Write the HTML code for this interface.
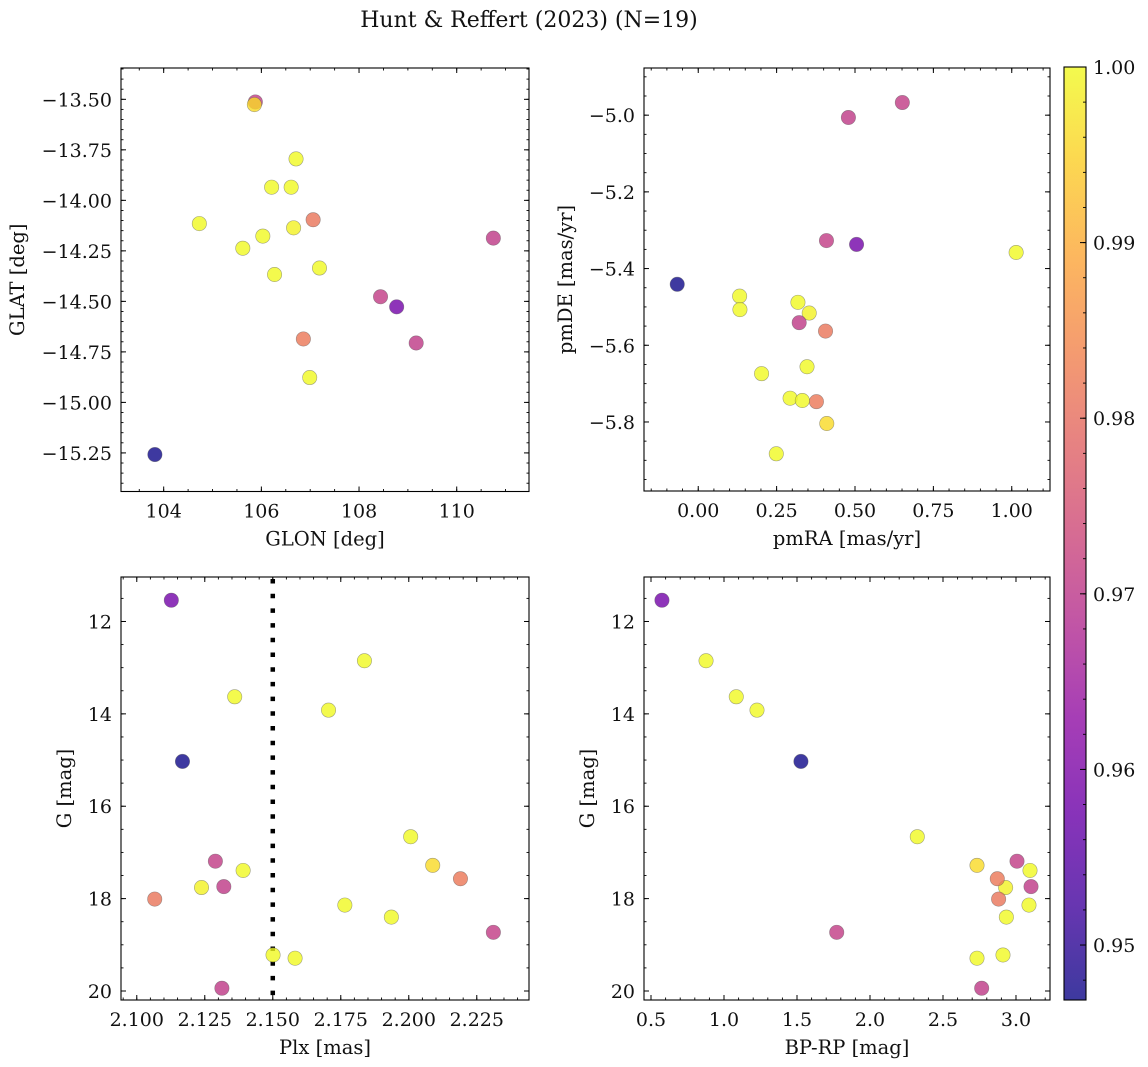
<!DOCTYPE html>
<html><head><meta charset="utf-8">
<style>
html,body{margin:0;padding:0;background:#fff;}
svg{display:block;font-family:"DejaVu Serif","Liberation Serif",serif;}
</style></head>
<body>
<svg id="fig" width="1148" height="1067" viewBox="0 0 1148 1067" xmlns="http://www.w3.org/2000/svg">
<rect width="1148" height="1067" fill="#fff"/>
<text x="529" y="27" font-size="22" text-anchor="middle" fill="#111">Hunt &amp; Reffert (2023) (N=19)</text>
</svg>
<script>
const prob = [0.9587,0.947,1,1,1,0.9709,1,0.999,0.9705,0.9812,1,0.996,0.9818,1,1,0.971,1,1,0.9705];
const glon = [108.77,103.82,106.71,106.21,106.61,105.877,104.73,106.66,110.75,107.06,106.03,105.857,106.86,105.62,107.19,108.44,106.27,106.99,109.17];
const glat = [-14.527,-15.258,-13.795,-13.935,-13.935,-13.513,-14.115,-14.136,-14.187,-14.096,-14.177,-13.526,-14.686,-14.237,-14.335,-14.477,-14.367,-14.877,-14.706];
const pmra = [0.505,-0.067,1.014,0.132,0.133,0.651,0.318,0.354,0.479,0.406,0.347,0.410,0.377,0.202,0.293,0.409,0.332,0.249,0.322];
const pmde = [-5.337,-5.441,-5.358,-5.472,-5.507,-4.967,-5.488,-5.516,-5.006,-5.563,-5.656,-5.804,-5.747,-5.674,-5.738,-5.327,-5.744,-5.883,-5.541];
const plx = [2.1127,2.1168,2.1360,2.1837,2.1705,2.1289,2.1391,2.1238,2.1320,2.1066,2.2007,2.2088,2.2190,2.1765,2.1936,2.2311,2.1501,2.1582,2.1313];
const gmag = [11.54,15.03,13.63,12.85,13.92,17.19,17.39,17.76,17.74,18.01,16.66,17.28,17.57,18.14,18.40,18.73,19.22,19.29,19.94];
const bprp = [0.575,1.527,1.084,0.877,1.226,3.007,3.096,2.929,3.103,2.881,2.324,2.733,2.872,3.089,2.934,1.772,2.911,2.733,2.765];
const plxRef = [2.150];
const glonTicks = [104,106,108,110];
const glatTicks = [-13.5,-13.75,-14,-14.25,-14.5,-14.75,-15,-15.25];
const pmraTicks = [0,0.25,0.5,0.75,1.0];
const pmdeTicks = [-5.0,-5.2,-5.4,-5.6,-5.8];
const plxTicks = [2.1,2.125,2.15,2.175,2.2,2.225];
const gTicks = [12,14,16,18,20];
const bprpTicks = [0.5,1.0,1.5,2.0,2.5,3.0];
const cbarTicks = [0.95,0.96,0.97,0.98,0.99,1.00];

const NS='http://www.w3.org/2000/svg';
const svg=document.getElementById('fig');
const TFS=19, LFS=19.5;
function mk(tag,attrs,parent){const e=document.createElementNS(NS,tag);for(const k in attrs)e.setAttribute(k,attrs[k]);(parent||svg).appendChild(e);return e;}
const VMIN=0.94687,VMAX=1.0;
const stops=['#0d0887','#41049d','#6a00a8','#8f0da4','#b12a90','#cc4778','#e16462','#f2844b','#fca636','#fcce25','#f0f921'];
function hx(c){return [parseInt(c.substr(1,2),16),parseInt(c.substr(3,2),16),parseInt(c.substr(5,2),16)];}
function plasma(t){t=Math.max(0,Math.min(1,t));const s=t*10;const i=Math.min(9,Math.floor(s));const f=s-i;const a=hx(stops[i]),b=hx(stops[i+1]);return 'rgb('+a.map((v,k)=>Math.round(v+(b[k]-v)*f)).join(',')+')';}
function cmap(v){return plasma((v-VMIN)/(VMAX-VMIN));}
function fmt(v,d){const s=Math.abs(v).toFixed(d);return (v<-1e-9?'\u2212':'')+s;}

function panel(cfg){
  const g=mk('g',{});
  
  
  const {x0,x1,y0,y1}=cfg;
  const sx=v=>x0+(v-cfg.xd[0])/(cfg.xd[1]-cfg.xd[0])*(x1-x0);
  const sy=v=>y1-(v-cfg.yd[0])/(cfg.yd[1]-cfg.yd[0])*(y1-y0);
  const minor=(lo,hi,step,isX)=>{const s=Math.ceil(lo/step-1e-6);for(let k=s;k*step<=hi+1e-9;k++){const v=k*step;if(isX){const p=sx(v);mk('line',{x1:p,x2:p,y1:y1,y2:y1-2.5,stroke:'#000','stroke-width':0.9},g);mk('line',{x1:p,x2:p,y1:y0,y2:y0+2.5,stroke:'#000','stroke-width':0.9},g);}else{const p=sy(v);mk('line',{x1:x0,x2:x0+2.5,y1:p,y2:p,stroke:'#000','stroke-width':0.9},g);mk('line',{x1:x1,x2:x1-2.5,y1:p,y2:p,stroke:'#000','stroke-width':0.9},g);}}};
  minor(Math.min(...cfg.xd),Math.max(...cfg.xd),cfg.xminor,true);
  minor(Math.min(...cfg.yd),Math.max(...cfg.yd),cfg.yminor,false);
  cfg.xt.forEach(v=>{const p=sx(v);
    mk('line',{x1:p,x2:p,y1:y1,y2:y1-5,stroke:'#000','stroke-width':1},g);
    mk('line',{x1:p,x2:p,y1:y0,y2:y0+5,stroke:'#000','stroke-width':1},g);
    const t=mk('text',{x:p,y:y1+26,'font-size':TFS,'text-anchor':'middle',fill:'#111'},g);
    
    
    t.textContent=fmt(v,cfg.xdec);});
  cfg.yt.forEach(v=>{const p=sy(v);
    mk('line',{x1:x0,x2:x0+5,y1:p,y2:p,stroke:'#000','stroke-width':1},g);
    mk('line',{x1:x1,x2:x1-5,y1:p,y2:p,stroke:'#000','stroke-width':1},g);
    const t=mk('text',{x:x0-9,y:p+7,'font-size':TFS,'text-anchor':'end',fill:'#111'},g);
    
    
    t.textContent=fmt(v,cfg.ydec);});
  const xl=mk('text',{x:(x0+x1)/2,y:y1+54,'font-size':LFS,'text-anchor':'middle',fill:'#111'},g);
  
  
  xl.textContent=cfg.xlabel;
  const yl=mk('text',{x:0,y:0,'font-size':LFS,'text-anchor':'middle',fill:'#111',transform:'translate('+cfg.ylx+','+((y0+y1)/2)+') rotate(-90)'},g);
  
  
  yl.textContent=cfg.ylabel;
  if(cfg.vline){cfg.vline.forEach(v=>{const l=mk('line',{x1:sx(v),x2:sx(v),y1:y0+2,y2:y1,stroke:'#000','stroke-width':4.5,'stroke-dasharray':'4.5 10.2'},g);
    
    });}
  for(let i=0;i<cfg.xs.length;i++){
    const c=mk('circle',{cx:sx(cfg.xs[i]),cy:sy(cfg.ys[i]),r:7.2,fill:cmap(prob[i]),'fill-opacity':0.8,stroke:'rgba(90,90,90,0.55)','stroke-width':0.6},g);
    
    
  }
  const f=mk('rect',{x:x0,y:y0,width:x1-x0,height:y1-y0,fill:'none',stroke:'#000','stroke-width':1.1},g);
  
  
}

panel({name:'glon-glat-panel',x0:121,x1:529,y0:68,y1:491.5,xd:[103.126,111.48],yd:[-15.441,-13.345],xs:glon,ys:glat,xt:glonTicks,yt:glatTicks,xdec:0,ydec:2,xminor:0.5,yminor:0.05,xlabel:'GLON [deg]',ylabel:'GLAT [deg]',ylx:24});
panel({name:'proper-motion-panel',x0:644,x1:1050,y0:68,y1:491,xd:[-0.173,1.122],yd:[-5.98,-4.877],xs:pmra,ys:pmde,xt:pmraTicks,yt:pmdeTicks,xdec:2,ydec:1,xminor:0.05,yminor:0.05,xlabel:'pmRA [mas/yr]',ylabel:'pmDE [mas/yr]',ylx:572});
panel({name:'plx-g-panel',x0:121,x1:529,y0:577,y1:1000,xd:[2.0942,2.2442],yd:[20.195,11.037],xs:plx,ys:gmag,xt:plxTicks,yt:gTicks,xdec:3,ydec:0,xminor:0.005,yminor:0.5,xlabel:'Plx [mas]',ylabel:'G [mag]',ylx:71,vline:plxRef});
panel({name:'cmd-panel',x0:644,x1:1050,y0:577,y1:1000,xd:[0.452,3.233],yd:[20.195,11.037],xs:bprp,ys:gmag,xt:bprpTicks,yt:gTicks,xdec:1,ydec:0,xminor:0.1,yminor:0.5,xlabel:'BP-RP [mag]',ylabel:'G [mag]',ylx:594});

(function(){
  const cx0=1064,cx1=1086,cy0=67,cy1=1000;
  const g=mk('g',{});
  
  
  const defs=mk('defs',{},g);
  const lg=mk('linearGradient',{id:'cb',x1:0,y1:1,x2:0,y2:0},defs);
  for(let k=0;k<=20;k++){mk('stop',{offset:(k/20),'stop-color':plasma(k/20),'stop-opacity':0.8},lg);}
  mk('rect',{x:cx0,y:cy0,width:cx1-cx0,height:cy1-cy0,fill:'url(#cb)'},g);
  const sy=v=>cy1-(v-VMIN)/(VMAX-VMIN)*(cy1-cy0);
  for(let k=Math.ceil(VMIN/0.002);k*0.002<=VMAX+1e-9;k++){const p=sy(k*0.002);mk('line',{x1:cx1,x2:cx1-3,y1:p,y2:p,stroke:'#000','stroke-width':0.9},g);}
  cbarTicks.forEach(v=>{const p=sy(v);mk('line',{x1:cx1,x2:cx1-6,y1:p,y2:p,stroke:'#000','stroke-width':1},g);
    const t=mk('text',{x:cx1+7,y:p+7,'font-size':TFS,fill:'#111'},g);
    
    
    t.textContent=v.toFixed(2);});
  mk('rect',{x:cx0,y:cy0,width:cx1-cx0,height:cy1-cy0,fill:'none',stroke:'#000','stroke-width':1.1},g);
})();
</script>
</body></html>
